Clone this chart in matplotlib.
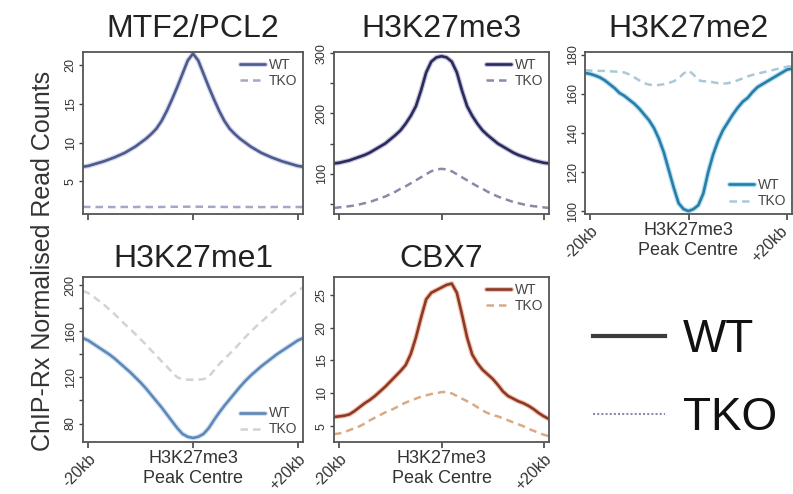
import matplotlib
matplotlib.use('Agg')
import matplotlib.pyplot as plt
import matplotlib.patheffects as pe
from matplotlib.lines import Line2D
from matplotlib.transforms import ScaledTranslation

plt.rcParams['font.family'] = ['Liberation Sans', 'DejaVu Sans']

# ---------------- data ----------------
positions_kb = [-21, -20, -19, -18, -17, -16, -15, -14, -13, -12, -11, -10, -9, -8, -7, -6, -5, -4, -3, -2, -1,
                0, 1, 2, 3, 4, 5, 6, 7, 8, 9, 10, 11, 12, 13, 14, 15, 16, 17, 18, 19, 20, 21]

mtf2_wt = [6.9, 7.0, 7.2, 7.4, 7.6, 7.85, 8.1, 8.4, 8.7, 9.1, 9.5, 10.0, 10.5, 11.1, 11.8, 12.8, 14.1, 15.6, 17.2, 18.9, 20.6,
           21.5, 20.6, 18.9, 17.2, 15.6, 14.1, 12.8, 11.8, 11.1, 10.5, 10.0, 9.5, 9.1, 8.7, 8.4, 8.1, 7.85, 7.6, 7.4, 7.2, 7.0, 6.9]
mtf2_tko = [1.72, 1.71, 1.70, 1.70, 1.71, 1.70, 1.69, 1.70, 1.71, 1.70, 1.70, 1.72, 1.71, 1.70, 1.70, 1.71, 1.72, 1.73, 1.73, 1.74, 1.74,
            1.75, 1.74, 1.74, 1.73, 1.72, 1.72, 1.71, 1.70, 1.70, 1.70, 1.71, 1.70, 1.70, 1.69, 1.70, 1.70, 1.71, 1.70, 1.70, 1.69, 1.70, 1.70]

k27me3_wt = [117, 118, 120, 122, 125, 128, 131, 135, 140, 145, 150, 157, 164, 172, 183, 196, 212, 238, 268, 286, 293,
             295, 293, 286, 268, 238, 212, 196, 183, 172, 164, 157, 150, 145, 140, 135, 131, 128, 125, 122, 120, 118, 117]
k27me3_tko = [43, 44, 45, 46, 47, 49, 51, 53, 56, 59, 62, 66, 70, 75, 79, 84, 89, 94, 99, 104, 107,
              108, 107, 104, 99, 94, 89, 84, 79, 75, 70, 66, 62, 59, 56, 53, 51, 49, 47, 46, 45, 44, 43]

k27me2_wt = [170.8, 170.3, 169.5, 168.5, 167, 165, 163, 160.5, 159, 157, 155, 152.5, 149.5, 146.5, 142.5, 137, 130, 121, 112, 104, 101,
             100, 101, 103, 109, 120, 129, 136, 141.5, 145.5, 149.5, 153, 156, 158, 161, 163.5, 165, 166.5, 168, 169.5, 171, 172.5, 173]
k27me2_tko = [172.2, 172, 172, 171.8, 171.8, 171.6, 171.5, 171.3, 171, 170, 168.5, 167, 165.5, 164.8, 164.5, 164.6, 165, 165.6, 166.5, 168, 170.5,
              172, 170, 167, 166.5, 166.5, 166, 165.5, 165.3, 165.5, 166.2, 167, 168, 169, 169.8, 170.5, 171, 171.6, 172.2, 172.8, 173.4, 174, 174.3]

k27me1_wt = [154, 152, 149, 146, 143, 140, 136.5, 132.5, 128.5, 124.5, 120, 115.5, 110.5, 105, 99.5, 94, 88, 82, 76, 71, 68.5,
             67.5, 68.5, 71, 76, 83, 89.5, 95.5, 101, 106.5, 112, 117, 121.5, 125.5, 129.5, 133, 136.5, 140, 143, 146, 149, 152, 154]
k27me1_tko = [195, 193, 190, 186.5, 183, 179, 175, 170.5, 166, 162, 157.5, 153, 148.5, 143.5, 139, 134, 129.5, 124.5, 120, 118.5, 118,
              118, 118, 118.5, 120.5, 126, 131.5, 136, 140.5, 145, 150, 155, 159.5, 164, 168, 172, 176, 180, 184, 188, 191.5, 195, 198]

cbx7_wt = [6.4, 6.5, 6.6, 6.8, 7.3, 7.9, 8.5, 9.0, 9.6, 10.3, 11.0, 11.8, 12.6, 13.4, 14.3, 16.0, 18.5, 21.5, 24.3, 25.3, 25.7,
           26.1, 26.5, 26.7, 25.3, 22.0, 18.5, 15.9, 14.6, 13.6, 12.9, 12.2, 11.3, 10.3, 9.6, 9.2, 8.8, 8.5, 8.1, 7.6, 7.0, 6.5, 6.1]
cbx7_tko = [3.8, 3.9, 4.1, 4.4, 4.7, 5.0, 5.4, 5.9, 6.3, 6.7, 7.1, 7.4, 7.8, 8.2, 8.6, 8.9, 9.2, 9.5, 9.7, 9.9, 10.0,
            10.2, 10.2, 10.0, 9.6, 9.2, 8.8, 8.4, 7.9, 7.4, 7.0, 6.7, 6.5, 6.2, 5.9, 5.6, 5.3, 5.0, 4.6, 4.3, 4.0, 3.7, 3.5]

series_labels = ['WT', 'TKO']
x_ticks = [-20, 0, 20]
x_centre_label = 'H3K27me3\nPeak Centre'
x_left_label = '-20kb'
x_right_label = '+20kb'
y_title = 'ChIP-Rx Normalised Read Counts'

# ---------------- layout / style ----------------
W, H = 793, 494
fig = plt.figure(figsize=(W / 100, H / 100), dpi=100)


def rect(l, t, r, b):
    return [l / W, 1 - b / H, (r - l) / W, (b - t) / H]


panels = [
    dict(title='MTF2/PCL2', wt=mtf2_wt, tko=mtf2_tko, box=(83, 52, 303, 214),
         ylim=(0.8, 21.7), yticks=[5, 10, 15, 20], ylabels=[5, 10, 15, 20],
         c='#4d5a8c', halo='#d3d6ec', ct='#a3a7c8', leg='upper right', xlab=False, tpad=10.8, rdx=0.05),
    dict(title='H3K27me3', wt=k27me3_wt, tko=k27me3_tko, box=(334, 52, 549, 214),
         ylim=(33, 302), yticks=[50, 100, 150, 200, 250, 300], ylabels=[100, 200, 300],
         c='#2a2b5a', halo='#c4c4de', ct='#8a89aa', leg='upper right', xlab=False, tpad=10.8, rdx=0.05),
    dict(title='H3K27me2', wt=k27me2_wt, tko=k27me2_tko, box=(585, 52, 792, 214),
         ylim=(98.5, 181.5), yticks=[100, 120, 140, 160, 180], ylabels=[100, 120, 140, 160, 180],
         c='#2b7da6', halo='#b0e0f4', ct='#a9c9da', leg='lower right', xlab=True, tpad=10.8, rdx=-0.02),
    dict(title='H3K27me1', wt=k27me1_wt, tko=k27me1_tko, box=(83, 277, 303, 442),
         ylim=(64, 207), yticks=[80, 100, 120, 140, 160, 180, 200], ylabels=[80, 120, 160, 200],
         c='#5d88b8', halo='#d4e3f3', ct='#d3d3d3', leg='lower right', xlab=True, tpad=7.2, rdx=0.05),
    dict(title='CBX7', wt=cbx7_wt, tko=cbx7_tko, box=(334, 277, 549, 442),
         ylim=(2.6, 27.7), yticks=[5, 10, 15, 20, 25], ylabels=[5, 10, 15, 20, 25],
         c='#8c3a28', halo='#f4c4b0', ct='#d9aa84', leg='upper right', xlab=True, tpad=7.2, rdx=0.05),
]

for p in panels:
    ax = fig.add_axes(rect(*p['box']))
    ax.plot(positions_kb, p['wt'], color=p['c'], lw=1.9, solid_capstyle='round',
            path_effects=[pe.Stroke(linewidth=3.6, foreground=p['halo']), pe.Normal()],
            label=series_labels[0])
    ax.plot(positions_kb, p['tko'], color=p['ct'], lw=1.8, ls=(0, (3, 2)), label=series_labels[1])
    ax.set_xlim(-21, 21)
    ax.set_ylim(*p['ylim'])
    for s in ax.spines.values():
        s.set_color('#555555')
        s.set_linewidth(1.3)
    ax.set_yticks(p['yticks'])
    ax.set_yticklabels([str(v) if v in p['ylabels'] else '' for v in p['yticks']])
    ax.tick_params(axis='y', direction='out', length=3, width=1, color='#444444',
                   labelsize=9, labelcolor='#333333', pad=1.5, labelrotation=90)
    for lab in ax.get_yticklabels():
        lab.set_va('center')
    ax.set_xticks(x_ticks)
    if p['xlab']:
        ax.set_xticklabels(['', x_centre_label, ''])
        for xv, txt, dx in ((x_ticks[0], x_left_label, 0.05), (x_ticks[2], x_right_label, p['rdx'])):
            off = ScaledTranslation(dx, -0.15, fig.dpi_scale_trans)
            ax.text(xv, 0, txt, transform=ax.get_xaxis_transform() + off, rotation=45,
                    rotation_mode='anchor', ha='right', va='center', fontsize=11.5,
                    color='#333333', clip_on=False)
    else:
        ax.set_xticklabels(['', '', ''])
    ax.tick_params(axis='x', direction='out', length=4, width=1.2, color='#444444',
                   labelsize=13, labelcolor='#333333', pad=2)
    ax.set_title(p['title'], fontsize=23, pad=p['tpad'], color='#222222')
    leg = ax.legend(loc=p['leg'], frameon=False, fontsize=10, handlelength=1.8,
                    handletextpad=0.3, labelspacing=0.15, borderaxespad=0.0, borderpad=0.4)
    for t in leg.get_texts():
        t.set_color('#444444')

fig.text(43 / W, 1 - 261 / H, y_title, rotation=90, ha='center', va='center',
         fontsize=18, color='#333333')

big_handles = [Line2D([], [], color='#3c3c3c', lw=3),
               Line2D([], [], color='#8c8ca8', lw=1.5, ls=(0, (1, 1)))]
big = fig.legend(handles=big_handles, labels=series_labels, loc='upper left',
                 bbox_to_anchor=(593 / W, 1 - 318 / H), frameon=False, fontsize=33,
                 handlelength=1.57, handletextpad=0.39, labelspacing=0.74,
                 borderpad=0, borderaxespad=0)
for t in big.get_texts():
    t.set_color('#111111')

fig.savefig('out.png', dpi=100)
